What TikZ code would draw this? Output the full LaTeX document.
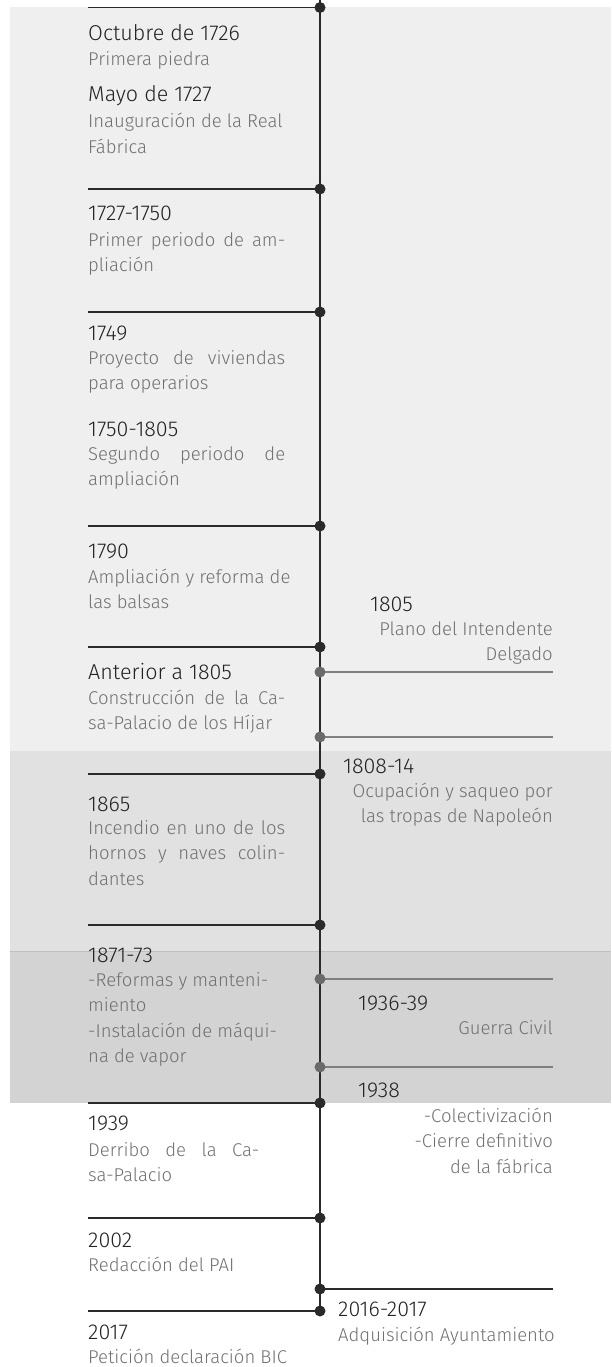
\documentclass[tikz,border=0pt]{standalone}
\usepackage{fontspec}
\setmainfont{Fira Sans Light}
\newfontfamily\yfont{Fira Sans Light}
\newfontfamily\dfont{Fira Sans Light}
\definecolor{bgA}{HTML}{EFEFEF}
\definecolor{bgB}{HTML}{E1E1E1}
\definecolor{bgC}{HTML}{D3D3D3}
\definecolor{yearcol}{HTML}{222222}
\definecolor{desccol}{HTML}{707070}
\definecolor{linecol}{HTML}{2A2A2A}
\definecolor{graycol}{HTML}{808080}
\definecolor{gdotcol}{HTML}{6A6A6A}
\newcommand\llines[1]{\vtop{\baselineskip=25.6pt\halign{##\hfil\cr#1\crcr}}}
\newcommand\rlines[1]{\vtop{\baselineskip=25.6pt\halign{\hfil##\cr#1\crcr}}}
\newcommand\jl[2][197pt]{\makebox[#1][s]{#2}}
\tikzset{
  yr/.style={font=\yfont\fontsize{21.5}{25}\selectfont, text=yearcol, inner sep=0pt, anchor=base west},
  ds/.style={font=\dfont\fontsize{18.5}{25.6}\selectfont, text=desccol, inner sep=0pt, anchor=base west},
  dsr/.style={ds, anchor=base east},
  vline/.style={line width=2pt, draw=linecol},
  hline/.style={line width=1.6pt, draw=linecol},
  gline/.style={line width=1.5pt, draw=graycol},
  bdot/.style={circle, fill=linecol, inner sep=0pt, minimum size=11pt},
  gdot/.style={circle, fill=gdotcol, inner sep=0pt, minimum size=11pt},
}
\begin{document}
\begin{tikzpicture}[x=1pt,y=-1pt]
\useasboundingbox (0,0) rectangle (611,1367);
% backgrounds
\fill[bgA] (10,7.5) rectangle (611,751);
\fill[bgB] (10,751) rectangle (611,951.5);
\fill[bgC] (10,951.5) rectangle (611,1103);
\draw[line width=0.8pt, draw=black!25] (10,951.5) -- (611,951.5);
% timeline coordinates
\coordinate (top) at (320,0);
\foreach \n/\y in {1/7.5,2/189,3/312,4/526,5/647,6/774,7/925,8/1103,9/1218,10/1311} {
  \coordinate (L\n) at (88,\y);
  \coordinate (D\n) at (320,\y);
}
\foreach \n/\y in {1/672,2/737,3/979,4/1067,5/1289} {
  \coordinate (R\n) at (553,\y);
  \coordinate (G\n) at (320,\y);
}
% main vertical line
\draw[vline] (top) -- (D10);
% left lines
\foreach \n in {1,...,10} { \draw[hline] (L\n) -- (D\n); }
% right lines
\foreach \n in {1,...,4} { \draw[gline] (G\n) -- (R\n); }
\draw[hline] (G5) -- (R5);
% dots
\foreach \n in {1,...,10} { \node[bdot] (dot\n) at (D\n) {}; }
\foreach \n in {1,...,4} { \node[gdot] (gdot\n) at (G\n) {}; }
\node[bdot] (gdot5) at (G5) {};
% left texts
\node[yr] (y1) at (88,41) {Octubre de 1726};
\node[ds] (t1) at (88,66) {\llines{Primera piedra}};
\node[yr] (y2) at (88,102) {Mayo de 1727};
\node[ds] (t2) at (88,128) {\llines{Inauguración de la Real\cr Fábrica}};
\node[yr] (y3) at (88,220) {1727-1750};
\node[ds] (t3) at (88,246) {\llines{\jl{Primer periodo de am-}\cr pliación}};
\node[yr] (y4) at (88,340) {1749};
\node[ds] (t4) at (88,364) {\llines{\jl{Proyecto de viviendas}\cr para operarios}};
\node[yr] (y5) at (88,436) {1750-1805};
\node[ds] (t5) at (88,460) {\llines{\jl{Segundo periodo de}\cr ampliación}};
\node[yr] (y6) at (88,558) {1790};
\node[ds] (t6) at (88,583) {\llines{Ampliación y reforma de\cr las balsas}};
\node[yr] (y7) at (88,679) {Anterior a 1805};
\node[ds] (t7) at (88,704) {\llines{\jl{Construcción de la Ca-}\cr sa-Palacio de los Híjar}};
\node[yr] (y8) at (88,811) {1865};
\node[ds] (t8) at (88,834) {\llines{\jl{Incendio en uno de los}\cr \jl{hornos y naves colin-}\cr dantes}};
\node[yr] (y9) at (88,962) {1871-73};
\node[ds] (t9) at (88,986) {\llines{-Reformas y manteni-\cr miento\cr -Instalación de máqui-\cr na de vapor}};
\node[yr] (y10) at (88,1130) {1939};
\node[ds] (t10) at (88,1156) {\llines{\jl[171pt]{Derribo de la Ca-}\cr sa-Palacio}};
\node[yr] (y11) at (88,1247) {2002};
\node[ds] (t11) at (88,1271) {\llines{Redacción del PAI}};
\node[yr] (y12) at (88,1339) {2017};
\node[ds] (t12) at (88,1363) {\llines{Petición declaración BIC}};
% right texts
\node[yr] (ya) at (370,611) {1805};
\node[dsr] (ta) at (553,635) {\rlines{Plano del Intendente\cr Delgado}};
\node[yr] (yb) at (343,773) {1808-14};
\node[dsr] (tb) at (553,797) {\rlines{Ocupación y saqueo por\cr las tropas de Napoleón}};
\node[yr] (yc) at (358,1010) {1936-39};
\node[dsr] (tc) at (553,1034) {\rlines{Guerra Civil}};
\node[yr] (yd) at (358,1097) {1938};
\node[dsr] (td) at (553,1122) {\rlines{-Colectivización\cr -Cierre definitivo\cr de la fábrica}};
\node[yr] (ye) at (338,1316) {2016-2017};
\node[ds] (te) at (338,1341) {\llines{Adquisición Ayuntamiento}};
\end{tikzpicture}
\end{document}
